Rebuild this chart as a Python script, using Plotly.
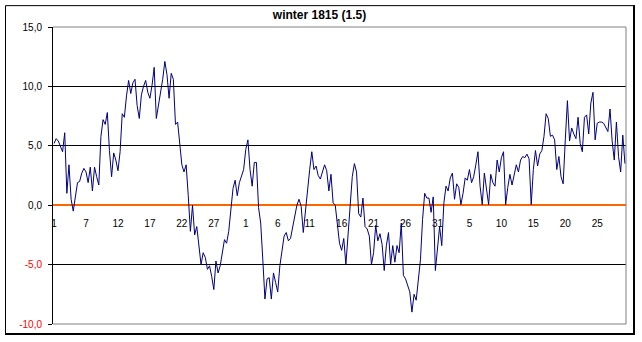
import plotly.graph_objects as go

# Observations (3 per day), from 2 December 1815 to end of February 1816
temps = [
    5.2, 5.6, 5.4, 4.9, 4.5, 6.1, 1.0, 3.4, 0.5, -0.5,
    0.8, 1.9, 2.0, 2.7, 3.1, 2.8, 1.9, 3.2, 1.2, 3.2,
    2.4, 1.7, 5.8, 7.2, 6.8, 7.8, 4.6, 2.4, 4.4, 3.8,
    2.9, 4.5, 7.7, 7.4, 9.2, 10.5, 9.4, 10.3, 10.6, 8.4,
    7.3, 9.3, 10.0, 10.5, 9.5, 9.0, 10.1, 11.6, 7.3, 8.4,
    9.3, 10.6, 12.1, 11.0, 9.0, 11.1, 10.6, 6.8, 7.0, 5.2,
    3.4, 2.8, 3.4, 0.8, -2.2, 0.0, -2.5, -1.8, -3.2, -5.0,
    -4.0, -4.4, -5.4, -5.1, -6.0, -7.1, -4.7, -5.7, -5.1, -4.0,
    -2.9, -3.2, -2.2, -0.4, 1.4, 2.1, 0.8, 1.9, 2.4, 3.0,
    4.7, 5.5, 3.0, 1.6, 3.6, 3.6, -0.2, -1.5, -4.6, -7.9,
    -6.2, -6.1, -7.9, -5.7, -6.5, -7.3, -5.1, -3.6, -2.6, -2.3,
    -3.0, -2.8, -1.8, -1.0, 0.0, 0.5, -0.1, -2.3, -0.3, 1.0,
    3.0, 4.5, 3.0, 3.3, 2.5, 2.2, 2.8, 3.4, 2.9, 1.2,
    2.6, 0.2, 0.0, -1.5, -3.2, -3.8, -2.8, -5.0, -2.6, 0.4,
    2.4, 3.5, 2.8, -0.7, -1.0, 0.6, -1.8, -2.0, -2.6, -5.0,
    -4.0, -1.7, -3.0, -2.4, -3.3, -5.5, -3.4, -2.3, -5.0, -3.4,
    -4.8, -3.4, -4.0, -1.5, -5.9, -6.2, -6.8, -7.3, -9.0, -7.5,
    -8.0, -6.0, -4.6, -1.2, 1.0, 0.6, 0.6, -0.6, 0.7, -5.5,
    -3.7, -1.8, -3.4, 0.2, 1.6, 1.2, 2.3, 2.7, 0.5, 1.8,
    1.5, 0.05, 1.0, 2.3, 2.1, 3.0, 1.9, 2.4, 3.4, 4.5,
    1.6, 0.05, 2.7, 1.3, 0.05, 2.6, 1.9, 1.6, 3.8, 2.8,
    4.0, 4.5, 0.05, 1.5, 2.6, 1.7, 2.6, 3.4, 2.8, 3.8,
    4.1, 4.0, 4.3, 3.9, 0.05, 3.0, 4.6, 3.3, 4.3, 4.6,
    5.8, 7.7, 7.3, 5.8, 5.9, 5.5, 3.0, 4.1, 2.4, 1.8,
    5.5, 8.8, 5.4, 6.5, 6.0, 5.6, 7.4, 5.2, 4.5, 7.4,
    7.6, 6.0, 8.6, 9.5, 5.5, 6.9, 7.0, 7.0, 6.9, 6.5,
    6.2, 8.1, 5.4, 3.8, 7.0, 4.1, 2.8, 5.9, 3.5,
]
obs_index = list(range(len(temps)))

# category labels (every 5th day = every 15th observation)
x_tick_positions = [0, 15, 30, 45, 60, 75, 90, 105, 120, 135, 150, 165, 180,
                    195, 210, 225, 240, 255]
x_tick_labels = ["1", "7", "12", "17", "22", "27", "1", "6", "11", "16", "21",
                 "26", "31", "5", "10", "15", "20", "25"]

y_tick_values = [-10, -5, 0, 5, 10, 15]
y_tick_texts = ["-10,0", "-5,0", "0,0", "5,0", "10,0", "15,0"]
y_tick_colors = ["#FF0000", "#FF0000", "#000000", "#000000", "#000000",
                 "#000000"]

title_text = "winter 1815 (1.5)"

W, H = 642, 342
ML, MR, MT, MB = 53, 16, 27, 16
PW, PH = W - ML - MR, H - MT - MB


def px_x(p):
    return (p - ML) / PW


def px_y(p):
    return (H - MB - p) / PH


FONT = "Liberation Sans, Arial, sans-serif"

x_min, x_max = -0.5, len(temps) - 0.5
y_min, y_max = -10, 15

y_tick_labels = ['<span style="color:%s">%s</span>' % (c, t)
                 for t, c in zip(y_tick_texts, y_tick_colors)]

fig = go.Figure()
fig.add_trace(go.Scatter(
    x=obs_index, y=temps, mode="lines",
    line=dict(color="#000080", width=1),
    showlegend=False, hoverinfo="skip",
))

fig.update_layout(
    width=W, height=H, autosize=False,
    margin=dict(l=ML, r=MR, t=MT, b=MB, pad=0),
    paper_bgcolor="white", plot_bgcolor="white",
    font=dict(family=FONT, size=10, color="black"),
    title=dict(text="<b>" + title_text + "</b>", xref="container",
               x=319.5 / W, y=1 - 15 / H, xanchor="center", yanchor="middle",
               font=dict(family=FONT, size=12, color="black")),
    xaxis=dict(range=[x_min, x_max], anchor="free",
               position=(0 - y_min) / (y_max - y_min),
               showgrid=False, zeroline=False,
               showline=True, linecolor="#FF6600", linewidth=2,
               ticks="", tickmode="array", tickvals=x_tick_positions,
               ticktext=x_tick_labels, ticklabelstandoff=9,
               tickfont=dict(family=FONT, size=10, color="black"),
               layer="below traces"),
    yaxis=dict(range=[y_min, y_max], showgrid=True, gridcolor="black",
               gridwidth=1, zeroline=False,
               showline=True, linecolor="black", linewidth=1,
               ticks="outside", ticklen=4, tickcolor="black", tickwidth=1,
               tickmode="array", tickvals=y_tick_values,
               ticktext=y_tick_labels, ticklabelstandoff=4,
               tickfont=dict(family=FONT, size=10, color="black"),
               layer="below traces"),
)

shapes = []
grey = "#808080"
# plot-area border (top, right, bottom)
shapes.append(dict(type="line", xref="paper", yref="paper", x0=0, x1=1,
                   y0=1, y1=1, line=dict(color=grey, width=1)))
shapes.append(dict(type="line", xref="paper", yref="paper", x0=0, x1=1,
                   y0=0, y1=0, line=dict(color=grey, width=1)))
shapes.append(dict(type="line", xref="paper", yref="paper", x0=1, x1=1,
                   y0=0, y1=1, line=dict(color=grey, width=1)))
# chart-area border
shapes.append(dict(type="line", xref="paper", yref="paper",
                   x0=px_x(5.5), x1=px_x(635), y0=px_y(5.5), y1=px_y(5.5),
                   line=dict(color="black", width=1)))
shapes.append(dict(type="line", xref="paper", yref="paper",
                   x0=px_x(5.5), x1=px_x(5.5), y0=px_y(5.5), y1=px_y(337),
                   line=dict(color="black", width=1)))
shapes.append(dict(type="line", xref="paper", yref="paper",
                   x0=px_x(634), x1=px_x(634), y0=px_y(5), y1=px_y(337),
                   line=dict(color="black", width=2)))
shapes.append(dict(type="line", xref="paper", yref="paper",
                   x0=px_x(5), x1=px_x(635), y0=px_y(336), y1=px_y(336),
                   line=dict(color="black", width=2)))
fig.update_layout(shapes=shapes)

fig.write_html("out.html",
               config={"displayModeBar": False},
               post_script="document.body.style.margin='0px';"
                           "document.body.style.overflow='hidden';")
